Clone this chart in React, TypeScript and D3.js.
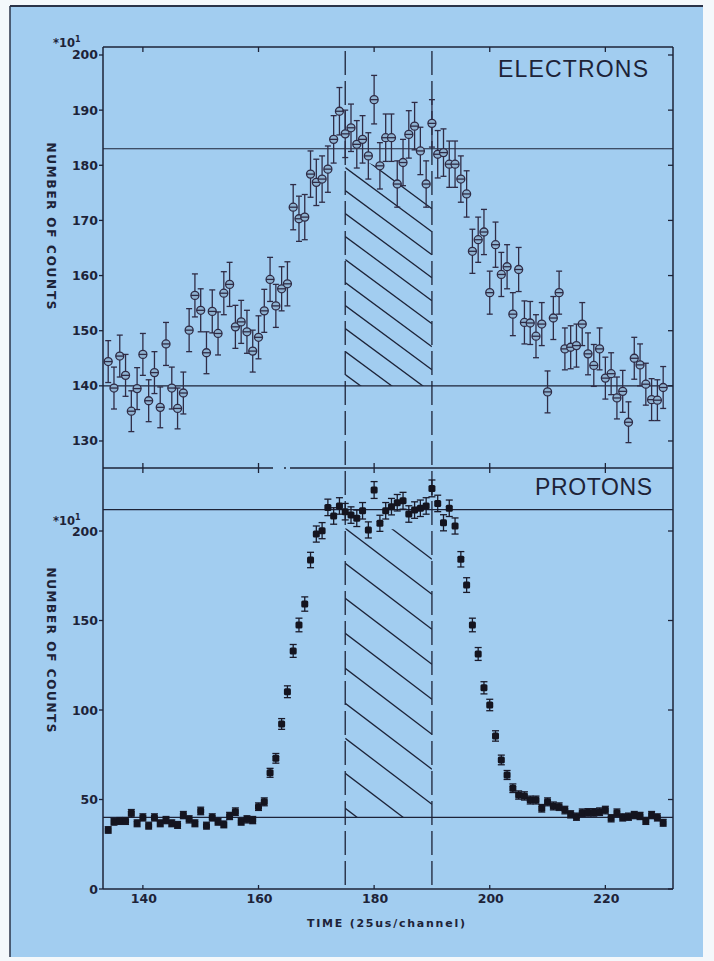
import React from "react";
import * as d3 from "d3";

// ---------- data ----------
const firstChannel = 134;

// ELECTRONS, number of counts (x10^1)
const electronCounts = [
  144.4, 139.6, 145.4, 141.9, 135.4, 139.5, 145.7, 137.3, 142.4, 136.1,
  147.6, 139.6, 135.9, 138.7, 150.1, 156.4, 153.7, 146.0, 153.5, 149.5,
  156.8, 158.4, 150.7, 151.6, 149.8, 146.3, 148.8, 153.6, 159.3, 154.5,
  157.6, 158.5, 172.4, 170.3, 170.6, 178.4, 176.9, 177.5, 179.3, 184.7,
  189.8, 185.7, 186.8, 183.8, 184.7, 181.7, 191.9, 179.9, 185.0, 185.0,
  176.6, 180.5, 185.6, 187.1, 182.6, 176.6, 187.6, 182.0, 182.3, 180.2,
  180.2, 177.5, 174.8, 164.4, 166.5, 167.9, 156.9, 165.6, 160.2, 161.6,
  153.0, 161.1, 151.5, 151.4, 149.0, 151.2, 138.9, 152.3, 156.9, 146.7,
  147.0, 147.3, 151.2, 145.8, 143.7, 146.7, 141.4, 142.2, 137.8, 139.0,
  133.4, 145.0, 143.8, 140.3, 137.5, 137.4, 139.7,
];
const electronErrors = [
  3.8, 3.8, 3.8, 3.8, 3.7, 3.8, 3.8, 3.8, 3.8, 3.7,
  3.9, 3.8, 3.7, 3.8, 3.9, 3.9, 3.9, 3.8, 3.9, 3.9,
  3.9, 4.0, 3.9, 3.9, 3.9, 3.8, 3.9, 3.9, 4.0, 3.9,
  4.0, 4.0, 4.1, 4.1, 4.1, 4.2, 4.2, 4.2, 4.2, 4.3,
  4.3, 4.3, 4.3, 4.3, 4.3, 4.2, 4.4, 4.2, 4.3, 4.3,
  4.2, 4.2, 4.3, 4.3, 4.3, 4.2, 4.3, 4.3, 4.3, 4.2,
  4.2, 4.2, 4.2, 4.0, 4.1, 4.1, 3.9, 4.1, 4.0, 4.0,
  3.9, 4.0, 3.9, 3.9, 3.9, 3.9, 3.8, 3.9, 3.9, 3.8,
  3.9, 3.9, 3.9, 3.8, 3.8, 3.8, 3.8, 3.8, 3.8, 3.8,
  3.7, 3.8, 3.8, 3.8, 3.8, 3.7, 3.8,
];

// PROTONS, number of counts (x10^1)
const protonCounts = [
  33.0, 37.6, 38.0, 38.0, 42.3, 36.7, 40.0, 35.4, 40.0, 36.7,
  38.5, 36.7, 35.8, 41.3, 38.9, 36.7, 43.6, 35.4, 40.0, 37.6,
  36.1, 40.8, 43.2, 37.6, 38.9, 38.5, 46.0, 48.7, 64.9, 73.0,
  92.2, 110.2, 133.0, 147.5, 159.2, 183.8, 198.3, 200.2, 213.2, 208.4,
  214.0, 210.8, 208.9, 207.1, 211.3, 200.6, 222.9, 204.3, 211.3, 213.6,
  215.8, 216.9, 209.5, 211.7, 212.7, 214.0, 223.8, 215.4, 204.6, 212.7,
  202.8, 184.2, 169.8, 147.5, 131.3, 112.4, 102.8, 85.5, 72.1, 63.7,
  56.3, 52.5, 52.0, 49.7, 49.7, 45.1, 48.7, 46.4, 46.0, 44.1,
  41.7, 40.4, 42.6, 42.8, 42.8, 43.2, 44.1, 39.5, 42.6, 40.0,
  40.4, 41.3, 40.8, 38.0, 41.3, 40.0, 37.0,
];
const protonErrors = [
  1.8, 1.9, 1.9, 1.9, 2.1, 1.9, 2.0, 1.9, 2.0, 1.9,
  2.0, 1.9, 1.9, 2.0, 2.0, 1.9, 2.1, 1.9, 2.0, 1.9,
  1.9, 2.0, 2.1, 1.9, 2.0, 2.0, 2.1, 2.2, 2.5, 2.7,
  3.0, 3.3, 3.6, 3.8, 4.0, 4.3, 4.5, 4.5, 4.6, 4.6,
  4.6, 4.6, 4.6, 4.6, 4.6, 4.5, 4.7, 4.5, 4.6, 4.6,
  4.6, 4.7, 4.6, 4.6, 4.6, 4.6, 4.7, 4.6, 4.5, 4.6,
  4.5, 4.3, 4.1, 3.8, 3.6, 3.4, 3.2, 2.9, 2.7, 2.5,
  2.4, 2.3, 2.3, 2.2, 2.2, 2.1, 2.2, 2.2, 2.1, 2.1,
  2.0, 2.0, 2.1, 2.1, 2.1, 2.1, 2.1, 2.0, 2.1, 2.0,
  2.0, 2.0, 2.0, 1.9, 2.0, 2.0, 1.9,
];

const xTicks = [140, 160, 180, 200, 220];
const electronTicks = [130, 140, 150, 160, 170, 180, 190, 200];
const protonTicks = [0, 50, 100, 150, 200];
const electronLevels = [183, 140];
const protonLevels = [212, 40];
const windowChannels = [175, 190];
const electronHatchTop = [182.5, 175.0];
const protonHatchTop = [201.5, 200.5];

const INK = "#1d2338";
const BLUE = "#a2cdf0";

type Pt = { ch: number; v: number; e: number };

function toPoints(vals: number[], errs: number[]): Pt[] {
  return vals.map((v, i) => ({ ch: firstChannel + i, v, e: errs[i] }));
}

function Hatch({
  id, x, y, top, bottom, spacing, slope, offset,
}: {
  id: string;
  x: d3.ScaleLinear<number, number>;
  y: d3.ScaleLinear<number, number>;
  top: number[];
  bottom: number;
  spacing: number;
  slope: number;
  offset: number;
}) {
  const x0 = x(windowChannels[0]);
  const x1 = x(windowChannels[1]);
  const yt0 = y(top[0]);
  const yt1 = y(top[1]);
  const yb = y(bottom);
  const poly = `${x0},${yt0} ${x1},${yt1} ${x1},${yb} ${x0},${yb}`;
  const lines: number[] = [];
  const startY = yt0 + offset;
  for (let s = startY - spacing * 10; s < yb + 2; s += spacing) lines.push(s);
  return (
    <g>
      <defs>
        <clipPath id={id}>
          <polygon points={poly} />
        </clipPath>
      </defs>
      <g clipPath={`url(#${id})`}>
        {lines.map((s, i) => (
          <line key={i} x1={x0} y1={s} x2={x1} y2={s + slope * (x1 - x0)} stroke={INK} strokeWidth={1.3} />
        ))}
      </g>
    </g>
  );
}

export default function App() {
  const left = 103, right = 673;
  const topY = 47, midY = 468, botY = 889;
  const x = d3.scaleLinear().domain([133.1, 231.7]).range([left, right]);
  const yE = d3.scaleLinear().domain([125.1, 201.45]).range([midY, topY]);
  const yP = d3.scaleLinear().domain([0, 235.2]).range([botY, midY]);

  const ePts = toPoints(electronCounts, electronErrors);
  const pPts = toPoints(protonCounts, protonErrors);

  const tickFont = { fontFamily: "DejaVu Sans", fontWeight: 700, fontSize: 12.5, fill: INK } as const;

  return (
    <div style={{ position: "absolute", left: 0, top: 0 }}>
      <svg width={714} height={961} style={{ display: "block" }}>
        <rect x={0} y={0} width={714} height={961} fill="#f4f8fb" />
        <rect x={10} y={6} width={693} height={951} fill={BLUE} />
        <line x1={10} y1={6} x2={703} y2={6} stroke="#2a3348" strokeWidth={2} />
        <line x1={10} y1={6} x2={10} y2={957} stroke="#2a3348" strokeWidth={1.5} />

        {/* hatched windows */}
        <Hatch id="hE" x={x} y={yE} top={electronHatchTop} bottom={electronLevels[1]} spacing={23} slope={0.74} offset={16} />
        <Hatch id="hP" x={x} y={yP} top={protonHatchTop} bottom={protonLevels[1]} spacing={35} slope={0.76} offset={0} />

        {/* frames */}
        <g fill="none" stroke={INK} strokeWidth={1.5}>
          <line x1={left} y1={topY} x2={right} y2={topY} />
          <line x1={left} y1={topY} x2={left} y2={botY} />
          <line x1={right} y1={topY} x2={right} y2={botY} />
          <line x1={left} y1={botY} x2={right} y2={botY} />
          <line x1={left} y1={midY} x2={273} y2={midY} />
          <line x1={290} y1={midY} x2={right} y2={midY} />
          <line x1={284} y1={midY} x2={286} y2={midY} />
        </g>

        {/* ticks */}
        <g stroke={INK} strokeWidth={1.3}>
          {xTicks.map((t) => (
            <g key={t}>
              <line x1={x(t)} y1={topY} x2={x(t)} y2={topY + 5} />
              <line x1={x(t)} y1={midY - 5} x2={x(t)} y2={midY + 5} />
              <line x1={x(t)} y1={botY} x2={x(t)} y2={botY - 4} />
            </g>
          ))}
          {electronTicks.map((t) => (
            <g key={t}>
              <line x1={left - 4} y1={yE(t)} x2={left} y2={yE(t)} />
              <line x1={right - 5} y1={yE(t)} x2={right} y2={yE(t)} />
            </g>
          ))}
          {protonTicks.map((t) => (
            <g key={t}>
              <line x1={left - 4} y1={yP(t)} x2={left} y2={yP(t)} />
              <line x1={right - 5} y1={yP(t)} x2={right} y2={yP(t)} />
            </g>
          ))}
        </g>

        {/* tick labels */}
        {electronTicks.map((t) => (
          <text key={t} x={98} y={yE(t)} textAnchor="end" dominantBaseline="central" {...tickFont}>{t}</text>
        ))}
        {protonTicks.map((t) => (
          <text key={t} x={98} y={yP(t)} textAnchor="end" dominantBaseline="central" {...tickFont}>{t}</text>
        ))}
        {xTicks.map((t) => (
          <text key={t} x={x(t) + 1} y={903} textAnchor="middle" {...tickFont}>{t}</text>
        ))}

        {/* multipliers */}
        <g {...tickFont} fontSize={11.5}>
          <text x={53} y={47}>*10<tspan dy={-5} fontSize={8}>1</tspan></text>
          <text x={53} y={525}>*10<tspan dy={-5} fontSize={8}>1</tspan></text>
        </g>

        {/* axis titles */}
        <text transform={`translate(47,${226}) rotate(90)`} textAnchor="middle" textLength={167} lengthAdjust="spacing" {...tickFont} fontSize={12}>NUMBER OF COUNTS</text>
        <text transform={`translate(47,${650}) rotate(90)`} textAnchor="middle" textLength={165} lengthAdjust="spacing" {...tickFont} fontSize={12}>NUMBER OF COUNTS</text>
        <text x={307} y={927} textLength={158} lengthAdjust="spacing" {...tickFont} fontSize={11}>TIME (25us/channel)</text>

        {/* panel titles */}
        <text x={498} y={77} textLength={150} lengthAdjust="spacing" fontFamily="Liberation Sans" fontSize={23} fill={INK}>ELECTRONS</text>
        <text x={535} y={495} textLength={117} lengthAdjust="spacing" fontFamily="Liberation Sans" fontSize={23} fill={INK}>PROTONS</text>

        {/* level lines */}
        <g stroke={INK} strokeWidth={1.2}>
          {electronLevels.map((v) => (
            <line key={v} x1={left} x2={right} y1={yE(v)} y2={yE(v)} />
          ))}
          {protonLevels.map((v) => (
            <line key={v} x1={left} x2={right} y1={yP(v)} y2={yP(v)} />
          ))}
        </g>

        {/* dashed window lines */}
        <g stroke={INK} strokeWidth={1.3} strokeDasharray="24 6">
          {windowChannels.map((c) => (
            <line key={c} x1={x(c)} x2={x(c)} y1={topY + 4} y2={botY} />
          ))}
        </g>

        {/* electrons */}
        <g stroke="#2f2c46" strokeWidth={1.3} fill="none">
          {ePts.map((p) => {
            const cx = x(p.ch);
            const y0 = yE(p.v);
            const yt = yE(p.v + p.e);
            const yb = yE(p.v - p.e);
            return (
              <g key={p.ch}>
                <line x1={cx} x2={cx} y1={yt} y2={yb} />
                <line x1={cx - 3} x2={cx + 3} y1={yt} y2={yt} />
                <line x1={cx - 3} x2={cx + 3} y1={yb} y2={yb} />
                <circle cx={cx} cy={y0} r={4} fill="#8fb3d2" />
                <line x1={cx - 4} x2={cx + 4} y1={y0} y2={y0} />
              </g>
            );
          })}
        </g>

        {/* protons */}
        <g stroke="#1a1a2a" strokeWidth={1.3}>
          {pPts.map((p) => {
            const cx = x(p.ch);
            const y0 = yP(p.v);
            const yt = yP(p.v + p.e);
            const yb = yP(p.v - p.e);
            return (
              <g key={p.ch}>
                <line x1={cx} x2={cx} y1={yt} y2={yb} />
                <line x1={cx - 3.5} x2={cx + 3.5} y1={yt} y2={yt} />
                <line x1={cx - 3.5} x2={cx + 3.5} y1={yb} y2={yb} />
                <rect x={cx - 3.5} y={y0 - 3.5} width={7} height={7} rx={1.5} fill="#14141f" stroke="none" />
              </g>
            );
          })}
        </g>
      </svg>
    </div>
  );
}
